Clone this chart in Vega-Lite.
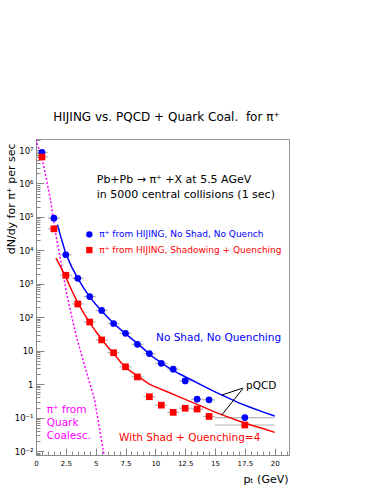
{
 "$schema": "https://vega.github.io/schema/vega-lite/v6.json",
 "width": 253,
 "height": 316,
 "autosize": {"type": "none"},
 "padding": {"left": 36, "top": 139, "right": 101, "bottom": 36},
 "title": {"text": "HIJING vs. PQCD + Quark Coal.\u00a0\u00a0for π⁺", "fontSize": 12, "fontWeight": "normal", "color": "#000", "offset": 15, "dx": 4, "anchor": "middle", "font": "DejaVu Sans"},
 "config": {"view": {"stroke": "#999"}, "font": "DejaVu Sans", "axis": {"grid": false}},
 "datasets": {
  "pts": [
   {"x": 0.5, "y": 8500000, "lo": 0, "hi": 1, "s": "A"},
   {"x": 1.5, "y": 92000, "lo": 1, "hi": 2, "s": "A"},
   {"x": 2.5, "y": 7400, "lo": 2, "hi": 3, "s": "A"},
   {"x": 3.5, "y": 1460, "lo": 3, "hi": 4, "s": "A"},
   {"x": 4.5, "y": 415, "lo": 4, "hi": 5, "s": "A"},
   {"x": 5.5, "y": 160, "lo": 5, "hi": 6, "s": "A"},
   {"x": 6.5, "y": 65, "lo": 6, "hi": 7, "s": "A"},
   {"x": 7.5, "y": 33, "lo": 7, "hi": 8, "s": "A"},
   {"x": 8.5, "y": 15.5, "lo": 8, "hi": 9, "s": "A"},
   {"x": 9.5, "y": 8.2, "lo": 9, "hi": 10, "s": "A"},
   {"x": 10.5, "y": 4.2, "lo": 10, "hi": 11, "s": "A"},
   {"x": 11.5, "y": 2.8, "lo": 11, "hi": 12, "s": "A"},
   {"x": 12.5, "y": 1.25, "lo": 12, "hi": 13, "s": "A"},
   {"x": 13.5, "y": 0.355, "lo": 13, "hi": 14, "s": "A"},
   {"x": 14.5, "y": 0.34, "lo": 14, "hi": 15, "s": "A"},
   {"x": 17.5, "y": 0.1, "lo": 15, "hi": 20, "s": "A"},
   {"x": 0.5, "y": 6200000, "lo": 0, "hi": 1, "s": "B"},
   {"x": 1.5, "y": 44000, "lo": 1, "hi": 2, "s": "B"},
   {"x": 2.5, "y": 1800, "lo": 2, "hi": 3, "s": "B"},
   {"x": 3.5, "y": 250, "lo": 3, "hi": 4, "s": "B"},
   {"x": 4.5, "y": 72, "lo": 4, "hi": 5, "s": "B"},
   {"x": 5.5, "y": 21, "lo": 5, "hi": 6, "s": "B"},
   {"x": 6.5, "y": 8.7, "lo": 6, "hi": 7, "s": "B"},
   {"x": 7.5, "y": 3.3, "lo": 7, "hi": 8, "s": "B"},
   {"x": 8.5, "y": 1.64, "lo": 8, "hi": 9, "s": "B"},
   {"x": 9.5, "y": 0.42, "lo": 9, "hi": 10, "s": "B"},
   {"x": 10.5, "y": 0.235, "lo": 10, "hi": 11, "s": "B"},
   {"x": 11.5, "y": 0.143, "lo": 11, "hi": 12, "s": "B"},
   {"x": 12.5, "y": 0.19, "lo": 12, "hi": 13, "s": "B"},
   {"x": 13.5, "y": 0.18, "lo": 13, "hi": 14, "s": "B"},
   {"x": 14.5, "y": 0.108, "lo": 14, "hi": 15, "s": "B"},
   {"x": 17.5, "y": 0.06, "lo": 15, "hi": 20, "s": "B"}
  ],
  "pqcd": [
   {"x": 1.8, "y": 58900, "s": "A"}, {"x": 2, "y": 31600, "s": "A"}, {"x": 2.5, "y": 7940, "s": "A"},
   {"x": 3, "y": 3160, "s": "A"}, {"x": 3.5, "y": 1450, "s": "A"}, {"x": 4, "y": 741, "s": "A"},
   {"x": 4.5, "y": 407, "s": "A"}, {"x": 5, "y": 245, "s": "A"}, {"x": 5.5, "y": 155, "s": "A"},
   {"x": 6, "y": 100, "s": "A"}, {"x": 6.5, "y": 66, "s": "A"}, {"x": 7, "y": 45.7, "s": "A"},
   {"x": 7.5, "y": 32.4, "s": "A"}, {"x": 8, "y": 22.9, "s": "A"}, {"x": 8.5, "y": 16.6, "s": "A"},
   {"x": 9, "y": 11.5, "s": "A"}, {"x": 9.5, "y": 7.9, "s": "A"}, {"x": 10, "y": 5.75, "s": "A"},
   {"x": 11, "y": 3.3, "s": "A"}, {"x": 12, "y": 2.04, "s": "A"}, {"x": 13, "y": 1.35, "s": "A"},
   {"x": 14, "y": 0.89, "s": "A"}, {"x": 15, "y": 0.59, "s": "A"}, {"x": 16, "y": 0.4, "s": "A"},
   {"x": 17, "y": 0.275, "s": "A"}, {"x": 18, "y": 0.2, "s": "A"}, {"x": 19, "y": 0.148, "s": "A"},
   {"x": 20, "y": 0.112, "s": "A"},
   {"x": 1.67, "y": 5890, "s": "B"}, {"x": 2, "y": 3550, "s": "B"}, {"x": 2.5, "y": 1580, "s": "B"},
   {"x": 3, "y": 630, "s": "B"}, {"x": 3.5, "y": 270, "s": "B"}, {"x": 4, "y": 132, "s": "B"},
   {"x": 4.5, "y": 69, "s": "B"}, {"x": 5, "y": 38, "s": "B"}, {"x": 5.5, "y": 21.9, "s": "B"},
   {"x": 6, "y": 13.2, "s": "B"}, {"x": 6.5, "y": 8.3, "s": "B"}, {"x": 7, "y": 5.0, "s": "B"},
   {"x": 7.5, "y": 3.16, "s": "B"}, {"x": 8, "y": 2.34, "s": "B"}, {"x": 8.5, "y": 1.78, "s": "B"},
   {"x": 9, "y": 1.32, "s": "B"}, {"x": 9.5, "y": 1.0, "s": "B"}, {"x": 10, "y": 0.83, "s": "B"},
   {"x": 11, "y": 0.59, "s": "B"}, {"x": 12, "y": 0.417, "s": "B"}, {"x": 13, "y": 0.295, "s": "B"},
   {"x": 14, "y": 0.209, "s": "B"}, {"x": 15, "y": 0.145, "s": "B"}, {"x": 16, "y": 0.107, "s": "B"},
   {"x": 17, "y": 0.079, "s": "B"}, {"x": 18, "y": 0.06, "s": "B"}, {"x": 19, "y": 0.047, "s": "B"},
   {"x": 20, "y": 0.036, "s": "B"}
  ],
  "coal": [
   {"x": 0, "y": 21000000}, {"x": 0.6, "y": 4000000}, {"x": 1.2, "y": 350000}, {"x": 1.6, "y": 40000},
   {"x": 2, "y": 6600}, {"x": 2.6, "y": 447}, {"x": 3.4, "y": 25}, {"x": 4.2, "y": 2.5},
   {"x": 4.9, "y": 0.355}, {"x": 5.7, "y": 0.0076}
  ],
  "legmk": [
   {"x": 4.47, "y": 30000, "s": "A"},
   {"x": 4.47, "y": 10200, "s": "B"}
  ],
  "conn": [
   {"x": 17.34, "y": 0.764, "x2": 15.56, "y2": 0.47},
   {"x": 17.34, "y": 0.74, "x2": 15.56, "y2": 0.119}
  ],
  "notes": [
   {"x": 5.09, "y": 1260000, "t": "Pb+Pb → π⁺ +X at 5.5 AGeV", "s": "K", "k": "info"},
   {"x": 5.09, "y": 450000, "t": "in 5000 central collisions (1 sec)", "s": "K", "k": "info"},
   {"x": 5.3, "y": 30000, "t": "π⁺ from HIJING, No Shad, No Quench", "s": "A", "k": "leg"},
   {"x": 5.3, "y": 10200, "t": "π⁺ from HIJING, Shadowing + Quenching", "s": "B", "k": "leg"},
   {"x": 10.06, "y": 23.4, "t": "No Shad, No Quenching", "s": "A", "k": "lab"},
   {"x": 6.96, "y": 0.0246, "t": "With Shad + Quenching=4", "s": "B", "k": "lab"},
   {"x": 17.6, "y": 0.895, "t": "pQCD", "s": "K", "k": "lab"},
   {"x": 0.9, "y": 0.168, "t": "π⁺ from", "s": "C", "k": "lab"},
   {"x": 0.9, "y": 0.0686, "t": "Quark", "s": "C", "k": "lab"},
   {"x": 0.9, "y": 0.028, "t": "Coalesc.", "s": "C", "k": "lab"}
  ]
 },
 "encoding": {
  "x": {"field": "x", "type": "quantitative", "scale": {"domain": [0, 21.2], "nice": false, "zero": false}, "axis": null},
  "y": {"field": "y", "type": "quantitative", "scale": {"type": "log", "domain": [0.0076, 21400000], "nice": false}, "axis": null}
 },
 "layer": [
  {
   "data": {"name": "pts"},
   "mark": {"type": "rule", "color": "#b4b4b4", "strokeWidth": 1.2},
   "encoding": {
    "x": {"field": "lo", "type": "quantitative", "scale": {"domain": [0, 21.2], "nice": false, "zero": false},
     "axis": {"orient": "bottom", "values": [0, 2.5, 5, 7.5, 10, 12.5, 15, 17.5, 20], "format": ".1~f", "tickSize": -7, "tickColor": "#888", "domainColor": "#888", "labelFontSize": 7, "labelColor": "#000", "labelPadding": 11, "labelOverlap": false, "labelFlush": false, "title": "pₜ (GeV)", "titleFontSize": 11, "titleFontWeight": "normal", "titleColor": "#000", "titleX": 252, "titleY": 24, "titleAlign": "right", "titleBaseline": "middle", "grid": false}},
    "x2": {"field": "hi"},
    "y": {"field": "y", "type": "quantitative", "scale": {"type": "log", "domain": [0.0076, 21400000], "nice": false},
     "axis": {"orient": "left", "values": [0.01, 0.1, 1, 10, 100, 1000, 10000, 100000, 1000000, 10000000], "labelExpr": "datum.value == 1 ? '1' : datum.value == 10 ? '10' : '10' + replace(replace(replace(replace(replace(replace(replace(replace('' + round(log(datum.value)/LN10), '-', '⁻'), '1', '¹'), '2', '²'), '3', '³'), '4', '⁴'), '5', '⁵'), '6', '⁶'), '7', '⁷')", "tickSize": -8, "tickColor": "#888", "domainColor": "#888", "labelFontSize": 8.5, "labelColor": "#000", "labelPadding": 11, "labelOverlap": false, "title": "dN/dy for π⁺ per sec", "titleFontSize": 11, "titleFontWeight": "normal", "titleColor": "#000", "titleX": -25, "titleY": 4, "titleAlign": "right", "titleAngle": -90, "titleBaseline": "middle", "grid": false}}
   }
  },
  {
   "data": {"name": "coal"},
   "mark": {"type": "line", "color": "#ff00ff", "strokeWidth": 1.5, "strokeDash": [2, 2], "clip": true},
   "encoding": {
    "x": {"field": "x", "type": "quantitative", "scale": {"domain": [0, 21.2], "nice": false, "zero": false},
     "axis": {"orient": "bottom", "values": [0.5, 1, 1.5, 2, 3, 3.5, 4, 4.5, 5.5, 6, 6.5, 7, 8, 8.5, 9, 9.5, 10.5, 11, 11.5, 12, 13, 13.5, 14, 14.5, 15.5, 16, 16.5, 17, 18, 18.5, 19, 19.5, 20.5, 21], "tickSize": -4, "tickColor": "#888", "labels": false, "domain": false, "title": null, "grid": false}},
    "y": {"field": "y", "type": "quantitative", "scale": {"type": "log", "domain": [0.0076, 21400000], "nice": false},
     "axis": {"orient": "left", "values": [0.008, 0.009, 0.02, 0.03, 0.04, 0.05, 0.06, 0.07, 0.08, 0.09, 0.2, 0.3, 0.4, 0.5, 0.6, 0.7, 0.8, 0.9, 2, 3, 4, 5, 6, 7, 8, 9, 20, 30, 40, 50, 60, 70, 80, 90, 200, 300, 400, 500, 600, 700, 800, 900, 2000, 3000, 4000, 5000, 6000, 7000, 8000, 9000, 20000, 30000, 40000, 50000, 60000, 70000, 80000, 90000, 200000, 300000, 400000, 500000, 600000, 700000, 800000, 900000, 2000000, 3000000, 4000000, 5000000, 6000000, 7000000, 8000000, 9000000, 20000000], "tickSize": -4, "tickColor": "#888", "labels": false, "domain": false, "title": null, "grid": false}}
   }
  },
  {
   "data": {"name": "pqcd"},
   "mark": {"type": "line", "strokeWidth": 1.5, "clip": true},
   "encoding": {
    "color": {"field": "s", "type": "nominal", "scale": {"domain": ["A", "B", "C", "K"], "range": ["#0000ff", "#ff0000", "#ff00ff", "#000000"]}, "legend": null}
   }
  },
  {
   "data": {"name": "pts"},
   "mark": {"type": "point", "filled": true, "opacity": 1, "size": 45},
   "encoding": {
    "color": {"field": "s", "type": "nominal", "scale": {"domain": ["A", "B", "C", "K"], "range": ["#0000ff", "#ff0000", "#ff00ff", "#000000"]}, "legend": null},
    "shape": {"field": "s", "type": "nominal", "scale": {"domain": ["A", "B"], "range": ["circle", "square"]}, "legend": null}
   }
  },
  {
   "data": {"name": "legmk"},
   "mark": {"type": "point", "filled": true, "opacity": 1, "size": 40},
   "encoding": {
    "color": {"field": "s", "type": "nominal", "scale": {"domain": ["A", "B", "C", "K"], "range": ["#0000ff", "#ff0000", "#ff00ff", "#000000"]}, "legend": null},
    "shape": {"field": "s", "type": "nominal", "scale": {"domain": ["A", "B"], "range": ["circle", "square"]}, "legend": null}
   }
  },
  {
   "data": {"name": "conn"},
   "mark": {"type": "rule", "color": "#000", "strokeWidth": 1},
   "encoding": {"x2": {"field": "x2"}, "y2": {"field": "y2"}}
  },
  {
   "data": {"name": "notes"},
   "transform": [{"filter": "datum.k == 'info'"}],
   "mark": {"type": "text", "align": "left", "baseline": "middle", "fontSize": 11},
   "encoding": {
    "text": {"field": "t"},
    "color": {"field": "s", "type": "nominal", "scale": {"domain": ["A", "B", "C", "K"], "range": ["#0000ff", "#ff0000", "#ff00ff", "#000000"]}, "legend": null}
   }
  },
  {
   "data": {"name": "notes"},
   "transform": [{"filter": "datum.k == 'leg'"}],
   "mark": {"type": "text", "align": "left", "baseline": "middle", "fontSize": 9},
   "encoding": {
    "text": {"field": "t"},
    "color": {"field": "s", "type": "nominal", "scale": {"domain": ["A", "B", "C", "K"], "range": ["#0000ff", "#ff0000", "#ff00ff", "#000000"]}, "legend": null}
   }
  },
  {
   "data": {"name": "notes"},
   "transform": [{"filter": "datum.k == 'lab'"}],
   "mark": {"type": "text", "align": "left", "baseline": "middle", "fontSize": 10.5},
   "encoding": {
    "text": {"field": "t"},
    "color": {"field": "s", "type": "nominal", "scale": {"domain": ["A", "B", "C", "K"], "range": ["#0000ff", "#ff0000", "#ff00ff", "#000000"]}, "legend": null}
   }
  }
 ],
 "resolve": {"axis": {"x": "independent", "y": "independent"}}
}
